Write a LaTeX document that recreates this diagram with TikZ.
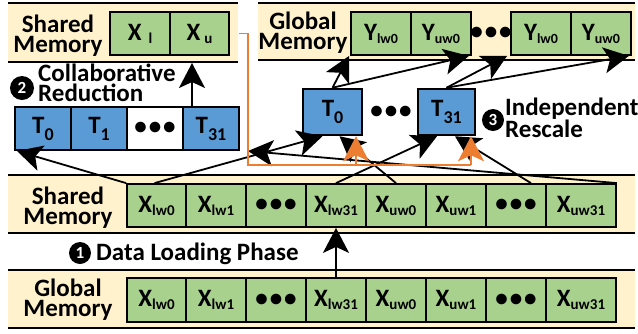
\documentclass[tikz,border=0pt]{standalone}
\usepackage{fontspec}
\setmainfont{Carlito}
\usetikzlibrary{arrows.meta}
\definecolor{beige}{HTML}{FFF2CC}
\definecolor{mygreen}{HTML}{A9D18E}
\definecolor{myblue}{HTML}{5B9BD5}
\definecolor{myorange}{HTML}{ED7D31}
\newcommand{\Xsub}[1]{X\raisebox{-3pt}{\fontsize{15}{15}\selectfont #1}}
\newcommand{\Ysub}[1]{Y\raisebox{-3pt}{\fontsize{14}{14}\selectfont #1}}
\newcommand{\Tsub}[1]{T\raisebox{-7pt}{\fontsize{18}{18}\selectfont #1}}
\newcommand{\threedots}{\textbullet\hspace{2pt}\textbullet\hspace{2pt}\textbullet}
\tikzset{
  bandline/.style={line width=2pt, draw=black},
  gbox/.style={draw, line width=1.8pt, fill=mygreen, inner sep=0pt, minimum height=43pt, anchor=center},
  bbox/.style={draw, line width=2pt, fill=myblue, inner sep=0pt, minimum height=43pt, anchor=center},
  mbox/.style={draw, line width=2.5pt, fill=myblue, inner sep=0pt, minimum height=46pt, anchor=center},
  wbox/.style={draw, line width=2pt, fill=white, inner sep=0pt, minimum height=43pt, anchor=center},
  lbl/.style={inner sep=0pt, align=center},
  ltxt/.style={inner sep=0pt, align=left},
  circ/.style={circle, fill=black, text=white, minimum size=22pt, inner sep=0pt, font=\fontsize{17}{17}\selectfont\bfseries},
  arr/.style={line width=1.8pt, -{Stealth[length=25pt,width=26pt,inset=6pt]}},
  oarr/.style={line width=1.8pt, draw=myorange, -{Stealth[length=25pt,width=26pt,inset=6pt]}},
  oline/.style={line width=1.8pt, draw=myorange},
}
\begin{document}
\begin{tikzpicture}[x=1pt,y=-1pt,font=\fontsize{25}{20}\selectfont\bfseries]
\useasboundingbox (0,0) rectangle (638,333);
% bands
\fill[beige] (8,3) rectangle (238,62);
\draw[bandline] (8,3) -- (238,3);
\draw[bandline] (8,62) -- (238,62);
\fill[beige] (258,3) rectangle (635,60);
\draw[bandline] (258,3) -- (635,3);
\draw[bandline] (258,60) -- (635,60);
\fill[beige] (8,175) rectangle (635,233);
\draw[bandline] (8,175) -- (635,175);
\draw[bandline] (8,233) -- (635,233);
\fill[beige] (8,270) rectangle (635,328);
\draw[bandline] (8,270) -- (635,270);
\draw[bandline] (8,328) -- (635,328);

% band labels
\node[lbl] (smtop) at (58,36) {Shared\\Memory};
\node[lbl] (gmtop) at (303,33) {Global\\Memory};
\node[lbl] (smmid) at (68,208) {Shared\\Memory};
\node[lbl] (gmbot) at (68,300) {Global\\Memory};

% top shared memory boxes
\node[gbox, minimum width=60pt] (xl) at (140,33.5) {X\hspace{7pt}\raisebox{-3pt}{\fontsize{15}{15}\selectfont l}};
\node[gbox, minimum width=59pt] (xu) at (199.5,33.5) {X\hspace{4pt}\raisebox{-3pt}{\fontsize{15}{15}\selectfont u}};

% top global memory boxes
\node[gbox, minimum width=60pt] (yl0) at (381,33.5) {\Ysub{lw0}};
\node[gbox, minimum width=60pt] (yu0) at (441,33.5) {\Ysub{uw0}};
\node[inner sep=0pt] (ydots) at (491,33.5) {\threedots};
\node[gbox, minimum width=60pt] (yl1) at (541,33.5) {\Ysub{lw0}};
\node[gbox, minimum width=60pt] (yu1) at (601,33.5) {\Ysub{uw0}};

% reduction threads
\node[bbox, minimum width=56pt] (T0r) at (43,128.5) {\Tsub{0}};
\node[bbox, minimum width=56pt] (T1r) at (99,128.5) {\Tsub{1}};
\node[wbox, minimum width=56pt] (dr) at (155,128.5) {\threedots};
\node[bbox, minimum width=56pt] (T31r) at (211,128.5) {\Tsub{31}};

% rescale threads
\node[mbox, minimum width=59pt] (T0m) at (332.5,112) {\Tsub{0}};
\node[inner sep=0pt] (dm) at (391,112) {\threedots};
\node[mbox, minimum width=57pt] (T31m) at (446.5,112) {\Tsub{31}};

% shared memory row
\node[gbox, minimum width=59pt] (sl0) at (156.5,205.5) {\Xsub{lw0}};
\node[gbox, minimum width=60pt] (sl1) at (216,205.5) {\Xsub{lw1}};
\node[gbox, minimum width=60pt] (sd1) at (276,205.5) {\threedots};
\node[gbox, minimum width=60pt] (sl31) at (336,205.5) {\Xsub{lw31}};
\node[gbox, minimum width=60pt] (su0) at (396,205.5) {\Xsub{uw0}};
\node[gbox, minimum width=60pt] (su1) at (456,205.5) {\Xsub{uw1}};
\node[gbox, minimum width=60pt] (sd2) at (516,205.5) {\threedots};
\node[gbox, minimum width=70pt] (su31) at (581,205.5) {\Xsub{uw31}};

% global memory row
\node[gbox, minimum width=59pt, minimum height=44pt] (gl0) at (156.5,300) {\Xsub{lw0}};
\node[gbox, minimum width=60pt, minimum height=44pt] (gl1) at (216,300) {\Xsub{lw1}};
\node[gbox, minimum width=60pt, minimum height=44pt] (gd1) at (276,300) {\threedots};
\node[gbox, minimum width=60pt, minimum height=44pt] (gl31) at (336,300) {\Xsub{lw31}};
\node[gbox, minimum width=60pt, minimum height=44pt] (gu0) at (396,300) {\Xsub{uw0}};
\node[gbox, minimum width=60pt, minimum height=44pt] (gu1) at (456,300) {\Xsub{uw1}};
\node[gbox, minimum width=60pt, minimum height=44pt] (gd2) at (516,300) {\threedots};
\node[gbox, minimum width=70pt, minimum height=44pt] (gu31) at (581,300) {\Xsub{uw31}};

% phase labels
\node[circ] (c1) at (80,253) {1};
\node[inner sep=0pt, anchor=base west] (p1) at (96,260) {Data Loading Phase};
\node[circ, minimum size=24pt] (c2) at (22,88) {2};
\node[ltxt, anchor=west] (p2) at (38,83) {Collaborative\\Reduction};
\node[circ] (c3) at (493,120) {3};
\node[ltxt, anchor=west] (p3) at (505,118) {Independent\\Rescale};

% black arrows
\draw[arr] (gl31.north) -- (sl31.south);
\draw[arr] (sl0.north west) -- ([xshift=3pt]T0r.south west);
\draw[arr] ([xshift=-2pt]sl0.north) -- ([xshift=-10pt]T0m.south);
\draw[arr] (su31.north east) -- ([xshift=8pt]T31r.south east);
\draw[arr] (su0.north) -- ([xshift=7pt]T0m.south);
\draw[arr] (sl31.north) -- ([xshift=-9.5pt]T31m.south);
\draw[arr] ([xshift=15pt]sd2.north) -- ([xshift=8.5pt]T31m.south);
\coordinate (redtip) at (192,63);
\draw[arr] ([xshift=-19pt]T31r.north) -- (redtip);
\draw[arr] (T0m.north) -- ([xshift=-1pt]yl0.south west);
\draw[arr] (T0m.north) -- ([xshift=-3pt]yu0.south east);
\draw[arr] (T31m.north) -- ([xshift=-3pt]yl1.south west);
\draw[arr] (T31m.north) -- ([xshift=-3pt]yu1.south east);

% orange broadcast
\coordinate (ob) at (248,165);
\draw[oline] ([xshift=9pt]xu.east) -| (ob) -- ([xshift=24.5pt]T31m.south |- ob);
\draw[oarr] ([xshift=24.5pt]T31m.south |- ob) -- ([xshift=24.5pt]T31m.south);
\draw[oarr] ([xshift=23.5pt]T0m.south |- ob) -- ([xshift=23.5pt]T0m.south);
\end{tikzpicture}
\end{document}
